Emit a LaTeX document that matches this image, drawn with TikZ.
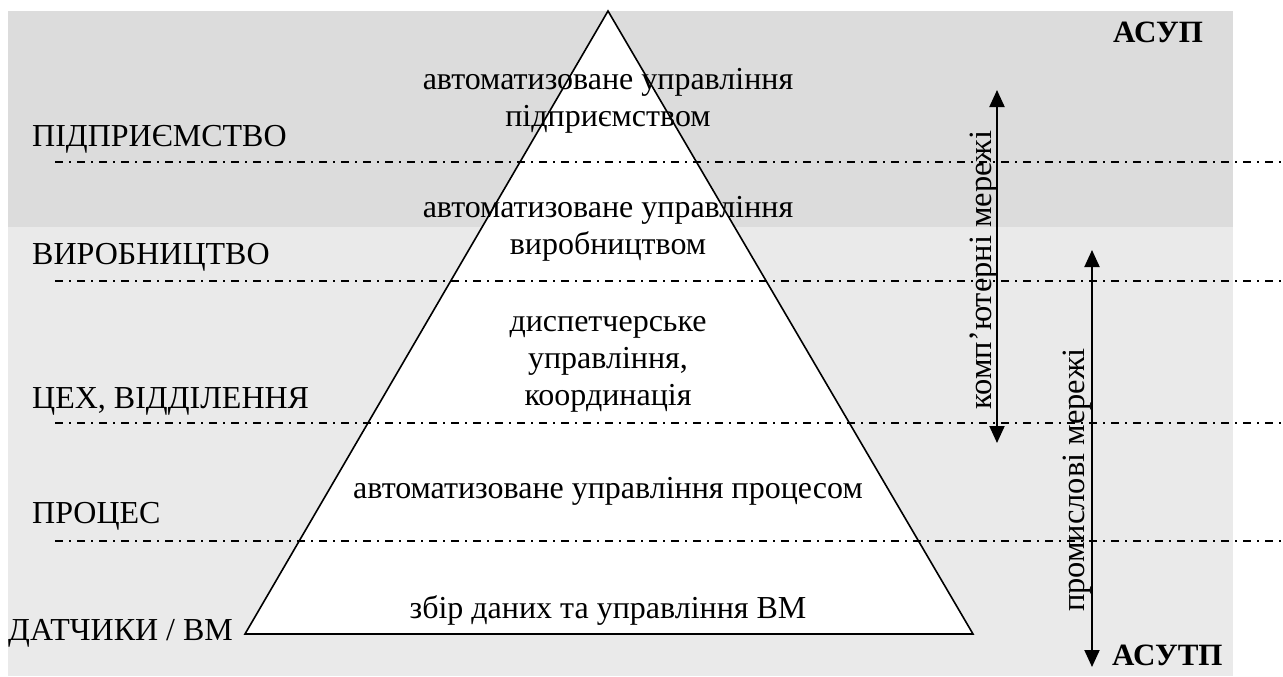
\documentclass[tikz,border=0pt]{standalone}
\usepackage{fontspec}
\setmainfont{Liberation Serif}
\usetikzlibrary{arrows.meta}
\definecolor{bgdark}{HTML}{DCDCDC}
\definecolor{bglight}{HTML}{EAEAEA}
\begin{document}
\begin{tikzpicture}[x=1pt,y=-1pt,
  lvl/.style={font=\fontsize{32}{37}\selectfont, inner sep=0pt, anchor=base west},
  ptxt/.style={font=\fontsize{32}{37}\selectfont, inner sep=0pt, align=center, anchor=base},
  bold/.style={font=\fontsize{31}{35}\selectfont\bfseries, inner sep=0pt, anchor=base west},
  side/.style={font=\fontsize{32.5}{37}\selectfont, inner sep=0pt, rotate=90},
  sep/.style={line width=1.4pt, dash pattern=on 8pt off 6pt on 2pt off 6pt},
  netarrow/.style={line width=2pt, {Triangle[length=17pt,width=15pt]}-{Triangle[length=17pt,width=15pt]}}]
\useasboundingbox (0,0) rectangle (1283,677);
\fill[bgdark] (8,11) rectangle (1233,227);
\fill[bglight] (8,227) rectangle (1233,676);
% pyramid
\coordinate (apex) at (608,11);
\coordinate (bl) at (245,634);
\coordinate (br) at (973,634);
\draw[fill=white, line width=1.6pt, line join=miter] (apex) -- (br) -- (bl) -- cycle;
% separators
\coordinate (s1a) at (55,162);  \coordinate (s1b) at (1281,162);
\coordinate (s2a) at (55,281);  \coordinate (s2b) at (1281,281);
\coordinate (s3a) at (55,423);  \coordinate (s3b) at (1281,423);
\coordinate (s4a) at (55,541);  \coordinate (s4b) at (1281,541);
\draw[sep] (s1a) -- (s1b);
\draw[sep] (s2a) -- (s2b);
\draw[sep] (s3a) -- (s3b);
\draw[sep] (s4a) -- (s4b);
% level labels
\node[lvl] (l1) at (32,146) {ПІДПРИЄМСТВО};
\node[lvl] (l2) at (32,264) {ВИРОБНИЦТВО};
\node[lvl] (l3) at (32,408) {ЦЕХ, ВІДДІЛЕННЯ};
\node[lvl] (l4) at (32,523) {ПРОЦЕС};
\node[lvl] (l5) at (8,640) {ДАТЧИКИ / ВМ};
% pyramid texts (base = baseline of last line)
\node[ptxt] (p1) at (608,126) {автоматизоване управління\\підприємством};
\node[ptxt] (p2) at (608,254) {автоматизоване управління\\виробництвом};
\node[ptxt] (p3) at (608,405) {диспетчерське\\управління,\\координація};
\node[ptxt] (p4) at (608,498) {автоматизоване управління процесом};
\node[ptxt] (p5) at (608,618) {збір даних та управління ВМ};
% system labels
\node[bold] (asup) at (1113,43) {АСУП};
\node[bold] (asutp) at (1112,665) {АСУТП};
% network arrows
\coordinate (c1) at (997,90);
\coordinate (c2) at (997,443);
\coordinate (i1) at (1092,250);
\coordinate (i2) at (1092,667);
\draw[netarrow] (c1) -- (c2);
\draw[netarrow] (i1) -- (i2);
\node[side] (cn) at (984,270) {комп’ютерні мережі};
\node[side] (in) at (1077,480) {промислові мережі};
\end{tikzpicture}
\end{document}
